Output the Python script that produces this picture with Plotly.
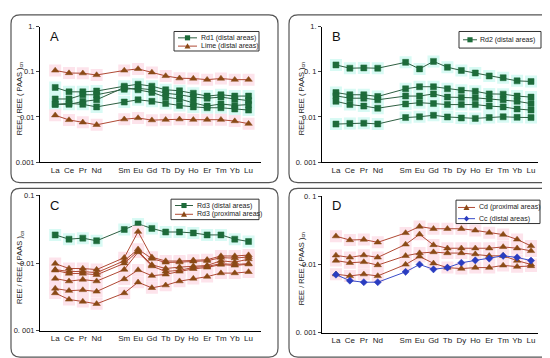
import plotly.graph_objects as go

# ---------------- data ----------------
AXIS_ELEMENTS = ["La", "Ce", "Pr", "Nd", "Pm", "Sm", "Eu", "Gd", "Tb", "Dy", "Ho", "Er", "Tm", "Yb", "Lu"]
ELEMENTS = ["La", "Ce", "Pr", "Nd", "Sm", "Eu", "Gd", "Tb", "Dy", "Ho", "Er", "Tm", "Yb", "Lu"]

# Panel A
A_rd1 = [
    [0.045, 0.036, 0.036, 0.0375, 0.048, 0.053, 0.048, 0.040, 0.038, 0.0335, 0.029, 0.031, 0.029, 0.029],
    [0.025, 0.025, 0.031, 0.031, 0.041, 0.043, 0.040, 0.0335, 0.031, 0.0275, 0.026, 0.0275, 0.025, 0.023],
    [0.019, 0.019, 0.022, 0.024, 0.045, 0.040, 0.035, 0.0275, 0.025, 0.0205, 0.0174, 0.0194, 0.018, 0.0188],
    [0.019, 0.020, 0.019, 0.0167, 0.0214, 0.024, 0.0222, 0.0198, 0.018, 0.0167, 0.016, 0.016, 0.015, 0.0142],
]
A_lime = [
    [0.107, 0.094, 0.093, 0.085, 0.107, 0.116, 0.097, 0.081, 0.072, 0.071, 0.067, 0.071, 0.067, 0.067],
    [0.0109, 0.0086, 0.0076, 0.0067, 0.0089, 0.0095, 0.0085, 0.0087, 0.0089, 0.0087, 0.0087, 0.0087, 0.0081, 0.0071],
]
# Panel B
B_rd2 = [
    [0.142, 0.120, 0.122, 0.120, 0.162, 0.116, 0.170, 0.126, 0.107, 0.094, 0.081, 0.074, 0.063, 0.061],
    [0.0347, 0.031, 0.031, 0.0284, 0.042, 0.0467, 0.0467, 0.042, 0.039, 0.037, 0.0324, 0.032, 0.029, 0.0275],
    [0.0294, 0.026, 0.026, 0.024, 0.029, 0.029, 0.0324, 0.0275, 0.027, 0.0265, 0.025, 0.024, 0.0222, 0.0198],
    [0.0222, 0.0188, 0.0174, 0.0156, 0.0194, 0.0207, 0.0198, 0.0188, 0.0188, 0.0188, 0.0174, 0.0167, 0.015, 0.0142],
    [0.00695, 0.0072, 0.0073, 0.0070, 0.0097, 0.0101, 0.0109, 0.0100, 0.0095, 0.0093, 0.0097, 0.0101, 0.0098, 0.0097],
]
# Panel C
C_distal = [
    [0.026, 0.0225, 0.0233, 0.0213, 0.0313, 0.0378, 0.0324, 0.0287, 0.0287, 0.0278, 0.026, 0.026, 0.0225, 0.0208],
]
C_proximal = [
    [0.0098, 0.0083, 0.0083, 0.0080, 0.0120, 0.029, 0.0122, 0.0107, 0.0107, 0.0110, 0.0112, 0.0127, 0.0127, 0.0131],
    [0.0080, 0.0075, 0.0075, 0.0072, 0.0108, 0.0160, 0.0116, 0.0102, 0.0103, 0.0106, 0.0108, 0.0120, 0.0118, 0.0123],
    [0.0078, 0.0070, 0.0070, 0.0067, 0.0099, 0.0150, 0.0094, 0.0083, 0.0087, 0.0090, 0.0092, 0.0108, 0.0103, 0.0114],
    [0.0059, 0.0054, 0.0057, 0.0054, 0.0080, 0.0145, 0.0090, 0.0075, 0.0078, 0.0086, 0.0089, 0.0098, 0.0095, 0.0098],
    [0.0042, 0.0039, 0.0040, 0.0038, 0.0058, 0.0079, 0.0065, 0.0068, 0.0075, 0.0082, 0.0086, 0.0095, 0.0092, 0.0096],
    [0.0036, 0.0029, 0.0027, 0.0025, 0.0036, 0.0052, 0.0043, 0.0047, 0.0054, 0.0059, 0.0063, 0.0071, 0.0071, 0.0074],
]
# Panel D
D_cd = [
    [0.026, 0.0228, 0.0232, 0.0211, 0.029, 0.036, 0.0334, 0.0334, 0.0334, 0.0316, 0.0293, 0.0274, 0.0233, 0.0187],
    [0.0136, 0.0127, 0.0137, 0.0127, 0.0197, 0.0277, 0.0193, 0.0173, 0.0173, 0.0173, 0.0173, 0.0181, 0.0173, 0.0158],
    [0.0114, 0.0106, 0.0109, 0.0098, 0.0134, 0.0147, 0.0152, 0.0147, 0.0147, 0.0142, 0.0134, 0.0134, 0.0114, 0.0100],
    [0.0072, 0.0068, 0.0072, 0.0068, 0.0100, 0.0131, 0.0104, 0.0090, 0.0087, 0.0090, 0.0090, 0.0097, 0.0093, 0.0095],
]
D_cc = [
    [0.0071, 0.0058, 0.0055, 0.0055, 0.0078, 0.0100, 0.0085, 0.0090, 0.0106, 0.0115, 0.0122, 0.0134, 0.0127, 0.0114],
]

Y_TICKS_AB = [0.001, 0.01, 0.1, 1]
Y_TICKTEXT_A = ["0.001", "0.01", "0.1", "1."]
Y_TICKTEXT_B = ["0. 001", "0.01", "0. 1", "1."]
Y_TICKS_CD = [0.001, 0.01, 0.1]
Y_TICKTEXT_C = ["0. 001", "0.01", "0.1"]
Y_TICKTEXT_D = ["0. 001", "0.01", "0. 1"]

# ---------------- styling ----------------
W, H = 550, 358
FONT = "Liberation Sans, Arial, sans-serif"
GREEN_FILL = "#1d6b3a"
GREEN_LINE = "#2f5f42"
BROWN_FILL = "#8a4a16"
BROWN_LINE = "#b04a35"
BLUE_FILL = "#2a3cc0"
BLUE_LINE = "#3a4cc8"
CYAN_HL = "#d8faf4"
PINK_HL = "#fde3eb"

xpos = [AXIS_ELEMENTS.index(e) for e in ELEMENTS]

fig = go.Figure()

panels = {
    "A": dict(ax="", px=(32, 253, 15, 154), xr=[-1.1, 14.9], yr=[-3, 0]),
    "B": dict(ax="2", px=(314, 530, 15, 154), xr=[-1.0, 14.5], yr=[-3, 0]),
    "C": dict(ax="3", px=(32, 253, 188, 327), xr=[-1.1, 14.9], yr=[-3, -1]),
    "D": dict(ax="4", px=(314, 530, 189, 329), xr=[-1.0, 14.5], yr=[-3, -1]),
}


def add_group(panel, series, fill, line, symbol, hl, msize):
    ax = panels[panel]["ax"]
    xa, ya = "x" + ax, "y" + ax
    if hl:
        for s in series:
            fig.add_trace(go.Scatter(
                x=xpos, y=s, mode="markers", xaxis=xa, yaxis=ya, showlegend=False,
                marker=dict(symbol="square", size=12, color=hl, line=dict(width=0)),
                hoverinfo="skip"))
    for s in series:
        fig.add_trace(go.Scatter(
            x=xpos, y=s, mode="lines+markers", xaxis=xa, yaxis=ya, showlegend=False,
            line=dict(color=line, width=1),
            marker=dict(symbol=symbol, size=msize, color=fill, line=dict(color=fill, width=0.5))))


add_group("A", A_rd1, GREEN_FILL, GREEN_LINE, "square", CYAN_HL, 6)
add_group("A", A_lime, BROWN_FILL, BROWN_LINE, "triangle-up", PINK_HL, 6.5)
add_group("B", B_rd2, GREEN_FILL, GREEN_LINE, "square", CYAN_HL, 6)
add_group("C", C_distal, GREEN_FILL, GREEN_LINE, "square", CYAN_HL, 6)
add_group("C", C_proximal, BROWN_FILL, BROWN_LINE, "triangle-up", PINK_HL, 6.5)
add_group("D", D_cd, BROWN_FILL, BROWN_LINE, "triangle-up", PINK_HL, 6.5)
add_group("D", D_cc, BLUE_FILL, BLUE_LINE, "diamond", None, 5.5)

ytexts = {"A": (Y_TICKS_AB, Y_TICKTEXT_A), "B": (Y_TICKS_AB, Y_TICKTEXT_B),
          "C": (Y_TICKS_CD, Y_TICKTEXT_C), "D": (Y_TICKS_CD, Y_TICKTEXT_D)}

layout = dict(
    width=W, height=H, margin=dict(l=0, r=0, t=0, b=0),
    paper_bgcolor="white", plot_bgcolor="white", showlegend=False,
    font=dict(family=FONT, size=8, color="#222"),
)
annotations = []
shapes = []


def fx(x):
    return x / W


def fy(y):
    return 1 - y / H


for key, p in panels.items():
    x0, x1, yt, yb = p["px"]
    ax = p["ax"]
    tv, tt = ytexts[key]
    layout["xaxis" + ax] = dict(
        domain=[fx(x0), fx(x1)], range=p["xr"], anchor="y" + ax,
        tickvals=xpos, ticktext=ELEMENTS, showgrid=False, zeroline=False,
        showline=True, linecolor="black", linewidth=1, ticks="",
        tickfont=dict(size=8, family=FONT, color="#222"), fixedrange=True)
    layout["yaxis" + ax] = dict(
        domain=[fy(yb), fy(yt)], type="log", range=p["yr"], anchor="x" + ax,
        tickvals=tv, ticktext=tt, showgrid=False, zeroline=False,
        showline=True, linecolor="black", linewidth=1, ticks="outside", ticklen=3,
        tickfont=dict(size=7.5, family=FONT, color="#222"), fixedrange=True)
    annotations.append(dict(
        text="REE / REE ( PAAS )<sub>cn</sub>", textangle=-90, showarrow=False,
        xref="paper", yref="paper", x=fx(x0 - 20), y=fy((yt + yb) / 2 + 5),
        xanchor="center", yanchor="middle", font=dict(size=7.5, family=FONT, color="#222")))
    annotations.append(dict(
        text=key, showarrow=False, xref="paper", yref="paper",
        x=fx(x0 + 8), y=fy(yt + 10), xanchor="left", yanchor="middle",
        font=dict(size=13, family=FONT, color="#111")))

# rounded panel frames
frames_px = [(3, 3, 270, 175), (281, 3, 546, 175), (3, 181, 270, 354), (281, 181, 546, 354)]
r = 9
for (a0, b0, a1, b1) in frames_px:
    def P(x, y):
        return f"{fx(x):.5f},{fy(y):.5f}"
    path = (f"M {P(a0 + r, b0)} L {P(a1 - r, b0)} Q {P(a1, b0)} {P(a1, b0 + r)} "
            f"L {P(a1, b1 - r)} Q {P(a1, b1)} {P(a1 - r, b1)} "
            f"L {P(a0 + r, b1)} Q {P(a0, b1)} {P(a0, b1 - r)} "
            f"L {P(a0, b0 + r)} Q {P(a0, b0)} {P(a0 + r, b0)} Z")
    shapes.append(dict(type="path", path=path, xref="paper", yref="paper",
                       line=dict(color="#555", width=1.2), layer="below"))


# ---- compact legends (box, sample line, glyph, label) ----
def glyph(kind, cx, cy, color):
    s = 2.6
    if kind == "square":
        return dict(type="rect", xref="paper", yref="paper", x0=fx(cx - s), x1=fx(cx + s),
                    y0=fy(cy + s), y1=fy(cy - s), fillcolor=color, line=dict(width=0))
    if kind == "triangle":
        path = f"M {fx(cx - 3)},{fy(cy + 2.5)} L {fx(cx + 3)},{fy(cy + 2.5)} L {fx(cx)},{fy(cy - 3)} Z"
    else:
        path = f"M {fx(cx)},{fy(cy - 3)} L {fx(cx + 2.6)},{fy(cy)} L {fx(cx)},{fy(cy + 3)} L {fx(cx - 2.6)},{fy(cy)} Z"
    return dict(type="path", xref="paper", yref="paper", path=path, fillcolor=color, line=dict(width=0))


legends = [
    dict(box=(166, 20, 251, 40), line=(170, 189), text_x=191,
         items=[("Rd1 (distal areas)", 26.5, "square", GREEN_FILL, GREEN_LINE),
                ("Lime (distal areas)", 35, "triangle", BROWN_FILL, BROWN_LINE)]),
    dict(box=(451, 20, 533, 37), line=(455, 469), text_x=470,
         items=[("Rd2 (distal areas)", 28.5, "square", GREEN_FILL, GREEN_LINE)]),
    dict(box=(163, 192, 251, 213), line=(167, 185), text_x=187,
         items=[("Rd3 (distal areas)", 198.5, "square", GREEN_FILL, GREEN_LINE),
                ("Rd3 (proximal areas)", 207.5, "triangle", BROWN_FILL, BROWN_LINE)]),
    dict(box=(448, 193, 532, 217), line=(450, 467), text_x=469,
         items=[("Cd (proximal areas)", 200.5, "triangle", BROWN_FILL, BROWN_LINE),
                ("Cc (distal areas)", 212, "diamond", BLUE_FILL, BLUE_LINE)]),
]
for lg in legends:
    b = lg["box"]
    shapes.append(dict(type="rect", xref="paper", yref="paper", x0=fx(b[0]), x1=fx(b[2]),
                       y0=fy(b[3]), y1=fy(b[1]), fillcolor="white", line=dict(color="#333", width=1)))
    l0, l1 = lg["line"]
    for (label, yy, kind, fill, lcol) in lg["items"]:
        shapes.append(dict(type="line", xref="paper", yref="paper", x0=fx(l0), x1=fx(l1),
                           y0=fy(yy), y1=fy(yy), line=dict(color=lcol, width=1)))
        shapes.append(glyph(kind, (l0 + l1) / 2, yy, fill))
        annotations.append(dict(text=label, showarrow=False, xref="paper", yref="paper",
                                x=fx(lg["text_x"]), y=fy(yy), xanchor="left", yanchor="middle",
                                font=dict(size=7, family=FONT, color="#222")))

layout["annotations"] = annotations
layout["shapes"] = shapes
fig.update_layout(**layout)

fig.write_html("out.html")
